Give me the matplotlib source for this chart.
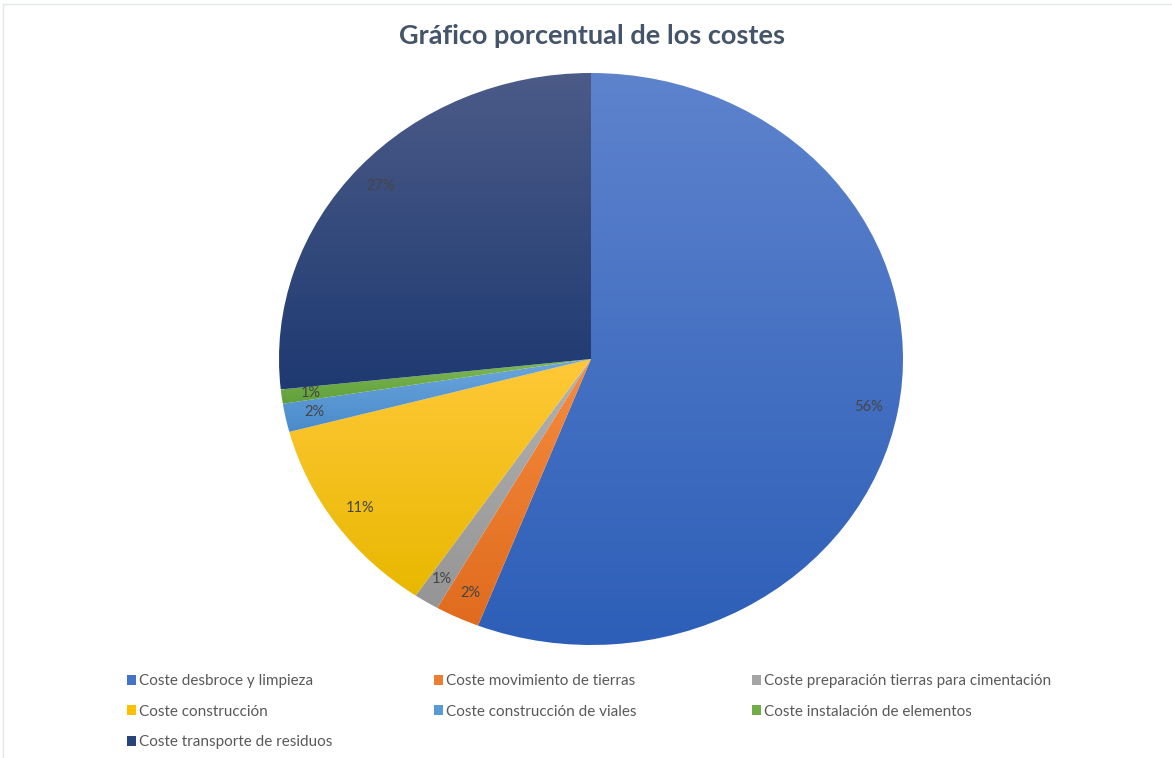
import numpy as np
import matplotlib.pyplot as plt
from matplotlib.patches import Patch
from matplotlib.colors import LinearSegmentedColormap

# Cost share per item (%)
labels = ['Coste desbroce y limpieza', 'Coste movimiento de tierras',
          'Coste preparación tierras para cimentación', 'Coste construcción',
          'Coste construcción de viales', 'Coste instalación de elementos',
          'Coste transporte de residuos']
shares = [55.9, 2.3, 1.3, 11.4, 1.6, 0.8, 26.7]
colors = ['#4472C4', '#ED7D31', '#A5A5A5', '#FFC000', '#5B9BD5', '#70AD47', '#264478']
# gradient ends (top, bottom) for each slice
tops = ['#5E83CD', '#F58B3E', '#B2B2B2', '#FFC838', '#6CA6DD', '#7EB957', '#4C5B88']
bottoms = ['#2D5FB8', '#E06B1E', '#959595', '#E8B800', '#4A8BCB', '#609F3A', '#1E3A71']

plt.rcParams['font.family'] = ['Lato', 'DejaVu Sans']

fig = plt.figure(figsize=(11.72, 7.58), dpi=100)
W, H = 1172, 758
cx, cy, rx, ry = 591, 359, 312, 286
ax = fig.add_axes([(cx - rx) / W, (H - cy - ry) / H, 2 * rx / W, 2 * ry / H])

wedges, texts, autotexts = ax.pie(shares, colors=colors, startangle=90, counterclock=False,
                                  autopct='%1.0f%%', pctdistance=0.905,
                                  textprops={'color': '#454545', 'fontsize': 10.5},
                                  wedgeprops={'linewidth': 0})

# vertical gradient fill inside each wedge
for w, t, b in zip(wedges, tops, bottoms):
    w.set_facecolor('none')
    bb = w.get_path().get_extents(w.get_patch_transform())
    cmap = LinearSegmentedColormap.from_list('g', [b, t])
    grad = np.linspace(0, 1, 256).reshape(-1, 1)
    im = ax.imshow(grad, cmap=cmap, origin='lower', aspect='auto',
                   extent=[bb.x0, bb.x1, bb.y0, bb.y1], zorder=1)
    im.set_clip_path(w)
for t in autotexts:
    t.set_zorder(3)
ax.set_xlim(-1, 1)
ax.set_ylim(-1, 1)
ax.set_aspect('auto')
ax.axis('off')

fig.text(0.505, 1 - 36 / H, 'Gráfico porcentual de los costes', ha='center', va='center',
         fontsize=19.5, fontweight='bold', color='#44546A')

# legend: three columns, filled row by row
columns = [[0, 3, 6], [1, 4], [2, 5]]
col_x = [121, 428, 746]
for idx, x in zip(columns, col_x):
    handles = [Patch(facecolor=colors[i], edgecolor='none') for i in idx]
    leg = fig.legend(handles, [labels[i] for i in idx], loc='upper left',
                     bbox_to_anchor=(x / W, 1 - 668 / H), frameon=False, fontsize=11,
                     handlelength=0.6, handleheight=0.6, handletextpad=0.15,
                     labelspacing=1.08, labelcolor='#595959', borderaxespad=0)

# faint frame on top and left edges
fig.add_artist(plt.Line2D([3 / W, 1], [1 - 4 / H, 1 - 4 / H], color='#E3E6EA', lw=1))
fig.add_artist(plt.Line2D([3 / W, 3 / W], [0, 1 - 4 / H], color='#E3E6EA', lw=1))

fig.savefig('out.png', dpi=100)
